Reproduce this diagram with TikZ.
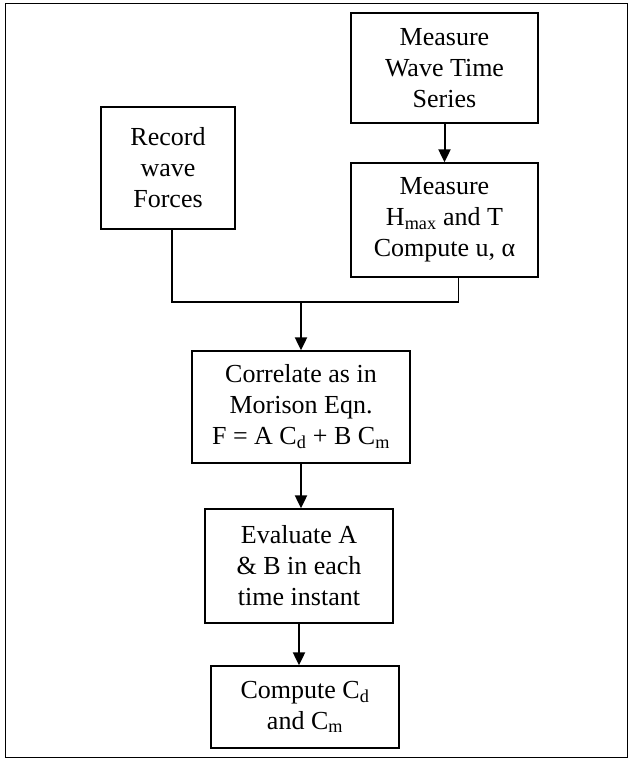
\documentclass[tikz,border=0pt]{standalone}
\usepackage{fontspec}
\setmainfont{Liberation Serif}
\usepackage{tikz}
\usetikzlibrary{arrows.meta, positioning}

\begin{document}
\begin{tikzpicture}[x=1pt, y=-1pt,
        stepbox/.style={draw, line width=1.3pt, align=center, inner sep=0pt,
            font=\fontsize{26}{31}\selectfont},
        flow/.style={-{Triangle[length=13pt, width=12pt]}, line width=2pt},
        link/.style={line width=1.3pt}]
        \useasboundingbox (0,0) rectangle (632,758);

        % Outer frame
        \draw[line width=1pt] (5,3) rectangle (627,757);

        % Top row
        \node[stepbox, minimum width=187, minimum height=110] (wave) at (444.5,68) {
            Measure\\Wave Time\\Series
        };
        \node[stepbox, minimum width=187, minimum height=114] (hmax) at (444.5,220) {
            Measure\\H\textsubscript{max} and T\\Compute u, α
        };
        \node[stepbox, minimum width=134, minimum height=122] (forces) at (168,168) {
            Record\\wave\\Forces
        };

        % Main chain
        \node[stepbox, minimum width=218, minimum height=112] (morison) at (301,407) {
            Correlate as in\\Morison Eqn.\\F = A C\textsubscript{d} + B C\textsubscript{m}
        };
        \node[stepbox, minimum width=188, minimum height=114] (evalab) at (299,566) {
            Evaluate A\\\& B in each\\time instant
        };
        \node[stepbox, minimum width=188, minimum height=82] (coeffs) at (305,707) {
            Compute C\textsubscript{d}\\and C\textsubscript{m}
        };

        % Connectors
        \coordinate (merge) at (301,302);
        \draw[flow] (wave) -- (hmax);
        \draw[link] ([xshift=4]forces.south) |- (merge) -| ([xshift=14]hmax.south);
        \draw[flow] (merge) -- (morison.north);
        \draw[flow] (morison.south) -- (morison.south |- evalab.north);
        \draw[flow] (evalab.south) -- (evalab.south |- coeffs.north);
    \end{tikzpicture}
\end{document}
